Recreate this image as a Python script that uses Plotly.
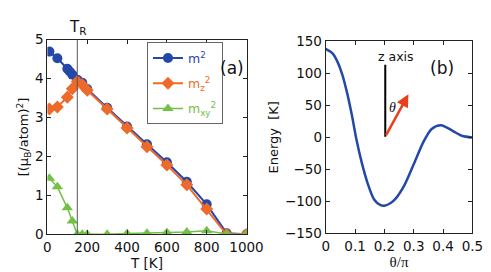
import plotly.graph_objects as go

# ---- data: panel (a)
T_m = [10, 50, 100, 112, 125, 150, 175, 200, 300, 400, 500, 600, 700, 800, 900, 1000]
m2 = [4.69, 4.52, 4.25, 4.18, 4.10, 3.97, 3.89, 3.73, 3.25, 2.77, 2.31, 1.85, 1.35, 0.77, 0.03, 0.0]
T_z = [10, 50, 100, 125, 150, 175, 200, 300, 400, 500, 600, 700, 800, 900, 1000]
mz2 = [3.22, 3.27, 3.52, 3.74, 3.92, 3.84, 3.70, 3.22, 2.73, 2.25, 1.78, 1.27, 0.65, 0.0, 0.0]
T_xy = [10, 50, 100, 125, 150, 175, 200, 300, 400, 500, 600, 700, 800, 900, 1000]
mxy2 = [1.44, 1.22, 0.68, 0.34, 0.0, 0.0, 0.0, 0.0, 0.02, 0.03, 0.05, 0.06, 0.09, 0.01, 0.0]
T_R = 150
xticks_a = [0, 200, 400, 600, 800, 1000]
yticks_a = [0, 1, 2, 3, 4, 5]

# ---- data: panel (b)
theta = [0.0, 0.024, 0.040, 0.056, 0.073, 0.089, 0.105, 0.122, 0.1435, 0.165, 0.187,
         0.203, 0.220, 0.236, 0.268, 0.301, 0.334, 0.361, 0.393, 0.431, 0.464, 0.500]
energy = [137.8, 130.5, 118, 98.6, 69.3, 35, -4, -38, -72.6, -97, -106,
          -106.5, -103, -97, -75, -41, -6.5, 13, 18.9, 10.5, 2.3, -0.5]
xticks_b = [0, 0.1, 0.2, 0.3, 0.4, 0.5]
yticks_b = [-150, -100, -50, 0, 50, 100, 150]
zaxis_x = [0.203, 0.203]
zaxis_y = [1, 113]
arrow_from = (0.203, 1)
arrow_to = (0.282, 67)

BLUE = "#2448a8"
ORANGE = "#ee6a2a"
GREEN = "#72c046"
FONT = "DejaVu Sans, Liberation Sans, Arial, sans-serif"

fig = go.Figure()

fig.add_trace(go.Scatter(
    x=T_m, y=m2, mode="lines+markers", name=f'<span style="color:{BLUE}">m<sup>2</sup></span>',
    legendgroup="a", line=dict(color=BLUE, width=2), marker=dict(symbol="circle", size=10, color=BLUE),
    xaxis="x", yaxis="y"))
fig.add_trace(go.Scatter(
    x=T_z, y=mz2, mode="lines+markers", name=f'<span style="color:{ORANGE}">m<sub>z</sub><sup>2</sup></span>',
    legendgroup="b", line=dict(color=ORANGE, width=2), marker=dict(symbol="diamond", size=10, color=ORANGE),
    xaxis="x", yaxis="y"))
fig.add_trace(go.Scatter(
    x=T_xy, y=mxy2, mode="lines+markers", name=f'<span style="color:{GREEN}">m<sub>xy</sub><sup>2</sup></span>',
    legendgroup="c", line=dict(color=GREEN, width=1.5), marker=dict(symbol="triangle-up", size=10, color=GREEN),
    xaxis="x", yaxis="y"))

fig.add_trace(go.Scatter(
    x=theta, y=energy, mode="lines", line=dict(color=BLUE, width=2.5, shape="spline", smoothing=0.8),
    showlegend=False, xaxis="x2", yaxis="y2"))
fig.add_trace(go.Scatter(
    x=zaxis_x, y=zaxis_y, mode="lines", line=dict(color="black", width=2),
    showlegend=False, xaxis="x2", yaxis="y2"))

axis_common = dict(showgrid=False, zeroline=False, ticks="inside", ticklen=4, mirror="ticks",
                   showline=True, linecolor="#222", linewidth=1, tickcolor="#222",
                   tickfont=dict(family=FONT, size=13.5, color="#111"))

fig.update_layout(
    width=491, height=272, margin=dict(l=0, r=0, t=0, b=0),
    paper_bgcolor="white", plot_bgcolor="white",
    font=dict(family=FONT, color="#111"),
    xaxis=dict(domain=[37/491, 245/491], range=[0, 1000], tickvals=xticks_a,
               title=dict(text="T [K]", font=dict(size=13.5), standoff=1), anchor="y", **axis_common),
    yaxis=dict(domain=[1-232/272, 1-25/272], range=[0, 5], tickvals=yticks_a,
               title=dict(text="[(μ<sub>B</sub>/atom)<sup>2</sup>]", font=dict(size=13), standoff=3),
               anchor="x", **axis_common),
    xaxis2=dict(domain=[327.7/491, 481/491], range=[0, 0.5], tickvals=xticks_b,
                ticktext=["0", "0.1", "0.2", "0.3", "0.4", "0.5"],
                title=dict(text="θ/π", font=dict(size=15, family="Liberation Serif, Times New Roman, serif"), standoff=1),
                anchor="y2", **axis_common),
    yaxis2=dict(domain=[1-231/272, 1-26.7/272], range=[-150, 150], tickvals=yticks_b,
                title=dict(text="Energy  [K]", font=dict(size=13), standoff=3),
                anchor="x2", **axis_common),
    legend=dict(x=141/491, y=1-28/272, xanchor="left", yanchor="top",
                bordercolor="#666", borderwidth=1, bgcolor="white",
                font=dict(family=FONT, size=12.5), itemwidth=30,
                traceorder="grouped", tracegroupgap=6),
    showlegend=True,
)

fig.add_shape(type="line", xref="x", yref="y domain", x0=T_R, x1=T_R, y0=0, y1=1,
              line=dict(color="#555", width=1))
fig.add_annotation(text="T<sub>R</sub>", xref="x", yref="paper", x=T_R, y=1-24/272,
                   xanchor="center", yanchor="bottom", showarrow=False, font=dict(size=15, family=FONT))
fig.add_annotation(text="(a)", xref="paper", yref="paper", x=230/491, y=1-43/272,
                   showarrow=False, font=dict(size=17, family=FONT))
fig.add_annotation(text="(b)", xref="paper", yref="paper", x=464/491, y=1-43/272,
                   showarrow=False, font=dict(size=17, family=FONT))
fig.add_annotation(text="z axis", xref="x2", yref="y2", x=0.24, y=126,
                   showarrow=False, font=dict(size=12.5, family=FONT))
fig.add_annotation(text="<i>θ</i>", xref="x2", yref="y2", x=0.227, y=47,
                   showarrow=False, font=dict(size=14, family="Liberation Serif, serif"))
fig.add_annotation(xref="x2", yref="y2", axref="x2", ayref="y2",
                   x=arrow_to[0], y=arrow_to[1], ax=arrow_from[0], ay=arrow_from[1],
                   text="", showarrow=True, arrowhead=2, arrowsize=1, arrowwidth=2.5,
                   arrowcolor="#e8401c")

fig.write_html("out.html")
